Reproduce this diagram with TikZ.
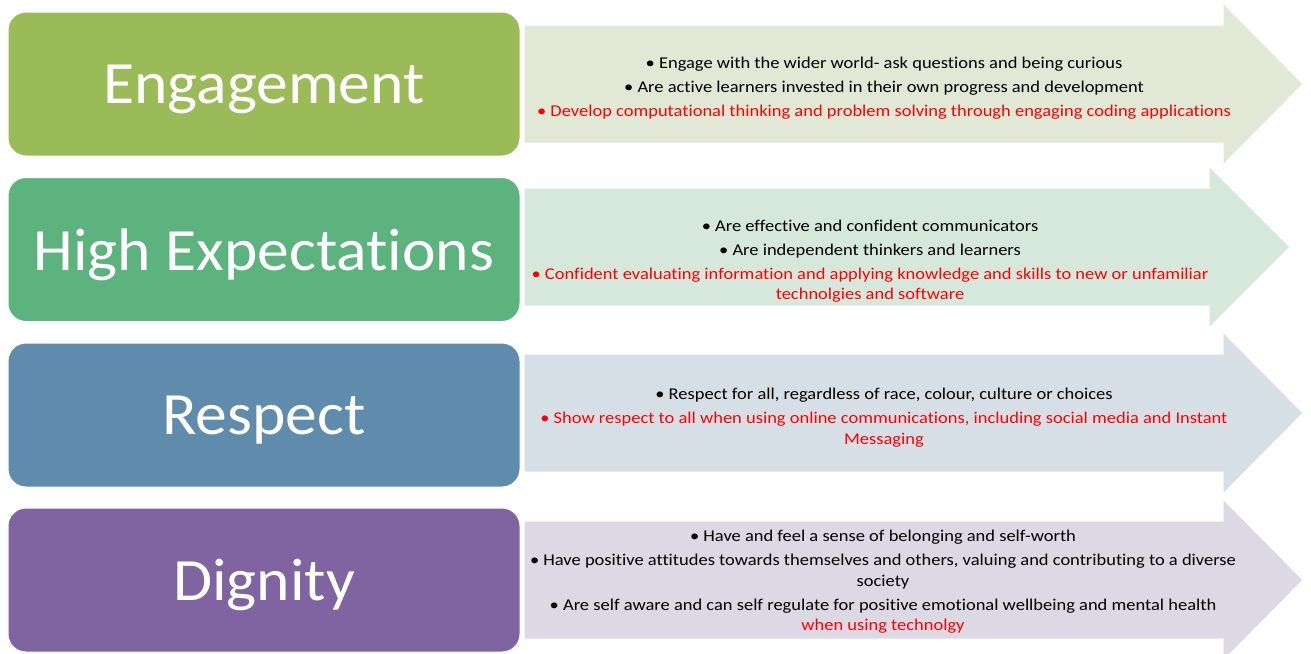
\documentclass[tikz,border=0pt]{standalone}
\usepackage{fontspec}
\setmainfont{Carlito}[Ligatures=NoCommon]
\newfontfamily\valuefont{Carlito}[Ligatures=NoCommon,FakeStretch=1.06]
\newfontfamily\pointfont{Carlito}[Ligatures=NoCommon,FakeStretch=1.12]
\usepackage{xcolor}
\usepackage{tikz}

\definecolor{engage}{HTML}{9BBB59}
\definecolor{expect}{HTML}{5DB37E}
\definecolor{respect}{HTML}{5F8CAD}
\definecolor{dignity}{HTML}{8064A2}
\definecolor{engageband}{HTML}{E1E8D5}
\definecolor{expectband}{HTML}{D6E8DC}
\definecolor{respectband}{HTML}{D6DFE5}
\definecolor{dignityband}{HTML}{DCD8E4}
\definecolor{note}{HTML}{FF0000}

\begin{document}
\begin{tikzpicture}[x=1pt,y=-1pt,
      value/.style={rounded corners=18pt,draw=white,line width=1pt,minimum width=512pt,
                    minimum height=144pt,text=white,text depth=0pt,
                    font=\valuefont\fontsize{60}{66}\selectfont},
      band/.style={draw=white,line width=1pt},
      point/.style={align=center,inner sep=0pt,font=\pointfont\fontsize{16.5}{20.5}\selectfont}
]
      \useasboundingbox (0,0) rectangle (1311,653);
      \clip (0,0) rectangle (1311,653);
      % arrows behind the text
      \draw[band,fill=engageband] (524,25) -- (1223,25) -- (1223,3) -- (1303,84)
            -- (1223,165) -- (1223,143) -- (524,143) -- cycle;
      \draw[band,fill=expectband] (524,188) -- (1209,188) -- (1209,166) -- (1290,247)
            -- (1209,328) -- (1209,306) -- (524,306) -- cycle;
      \draw[band,fill=respectband] (524,354) -- (1223,354) -- (1223,332) -- (1303,413)
            -- (1223,494) -- (1223,472) -- (524,472) -- cycle;
      \draw[band,fill=dignityband] (524,521) -- (1223,521) -- (1223,499) -- (1303,580)
            -- (1223,661) -- (1223,639) -- (524,639) -- cycle;
      % values
      \node[value,fill=engage] at (264,84) (eng) {Engagement};
      \node[value,fill=expect] at (264,249.5) (exp) {High Expectations};
      \node[value,fill=respect] at (264,415) (res) {Respect};
      \node[value,fill=dignity] at (264,580) (dig) {Dignity};
      % points
      \node[point] at (884,88) (engtxt) {%
            • Engage with the wider world- ask questions and being curious\\[3.5pt]
            • Are active learners invested in their own progress and development\\[3.5pt]
            \textcolor{note}{• Develop computational thinking and problem solving through engaging coding applications}};
      \node[point] at (870,261) (exptxt) {%
            • Are effective and confident communicators\\[3.5pt]
            • Are independent thinkers and learners\\[3.5pt]
            \textcolor{note}{• Confident evaluating information and applying knowledge and skills to new or unfamiliar}\\
            \textcolor{note}{technolgies and software}};
      \node[point] at (884,417.5) (restxt) {%
            • Respect for all, regardless of race, colour, culture or choices\\[3.5pt]
            \textcolor{note}{• Show respect to all when using online communications, including social media and Instant}\\
            \textcolor{note}{Messaging}};
      \node[point] at (883,582) (digtxt) {%
            • Have and feel a sense of belonging and self-worth\\[3.5pt]
            • Have positive attitudes towards themselves and others, valuing and contributing to a diverse\\
            society\\[3.5pt]
            • Are self aware and can self regulate for positive emotional wellbeing and mental health\\
            \textcolor{note}{when using technolgy}};
\end{tikzpicture}
\end{document}
